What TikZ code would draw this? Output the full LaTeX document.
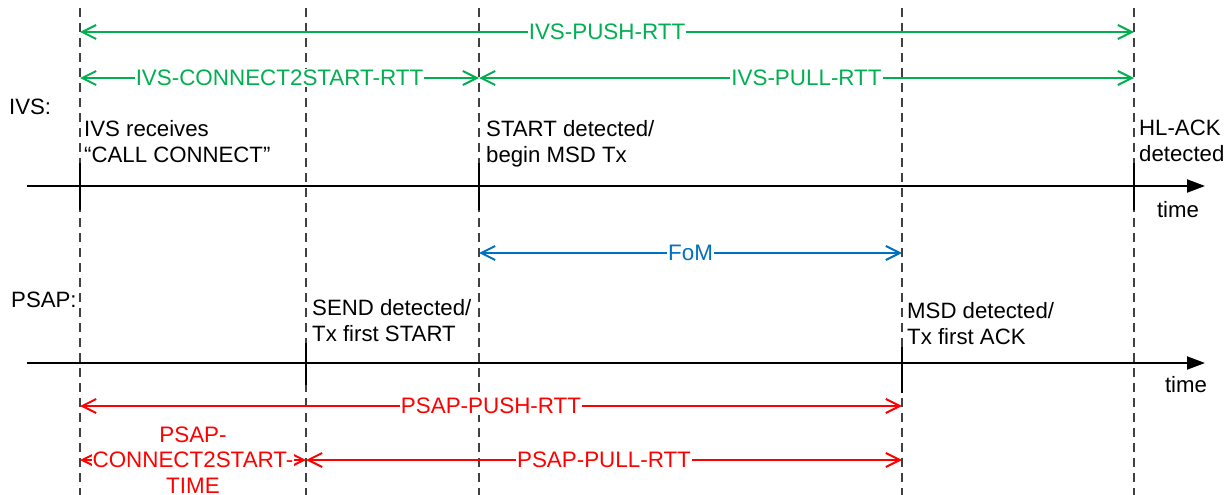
\documentclass[tikz,border=0pt]{standalone}
\usepackage{fontspec}
\setmainfont{Liberation Sans}
\usetikzlibrary{arrows.meta}
\definecolor{ggreen}{HTML}{00B050}
\definecolor{bblue}{HTML}{0070C0}
\definecolor{rred}{HTML}{FF0000}
\definecolor{dgray}{HTML}{404040}
\begin{document}
\begin{tikzpicture}[x=1pt,y=-1pt,
  guide/.style={dgray, line width=1.2pt, dash pattern=on 9pt off 6pt},
  axisline/.style={black, line width=2pt, -{Triangle[length=18pt,width=13pt]}},
  tickmark/.style={black, line width=2pt},
  span/.style={line width=2pt, {Straight Barb[length=14pt,width=14pt]}-{Straight Barb[length=14pt,width=14pt]}},
  lbl/.style={fill=white, inner sep=1pt, align=center, font=\fontsize{22.4}{25.2}\selectfont},
  txt/.style={inner sep=0pt, align=left, anchor=north west, font=\fontsize{22.2}{26}\selectfont},
  plain/.style={inner sep=0pt, font=\fontsize{22.2}{26}\selectfont},
]
\useasboundingbox (0,0) rectangle (1231,495);
% guide lines
\foreach \n/\x in {a/80,b/306,c/479,d/902,e/1134}{
  \coordinate (\n top) at (\x,8);
  \coordinate (\n bot) at (\x,495);
  \draw[guide] (\n top) -- (\n bot);
}
% time axes
\coordinate (ivsL) at (27,186);
\coordinate (ivsR) at (1205,186);
\coordinate (psapL) at (27,363);
\coordinate (psapR) at (1205,363);
\draw[axisline] (ivsL) -- (ivsR);
\draw[axisline] (psapL) -- (psapR);
% ticks
\foreach \n/\x in {t1/80,t2/479,t3/1134}{
  \coordinate (\n u) at (\x,163);
  \coordinate (\n d) at (\x,210);
  \draw[tickmark] (\n u) -- (\n d);
}
\coordinate (t4u) at (306,343); \coordinate (t4d) at (306,385);
\coordinate (t5u) at (902,347); \coordinate (t5d) at (902,393);
\draw[tickmark] (t4u) -- (t4d);
\draw[tickmark] (t5u) -- (t5d);
% labels
\node[plain, anchor=west] (ivs) at (9,107) {IVS:};
\node[plain, anchor=west] (psap) at (11,300) {PSAP:};
\node[plain] (time1) at (1178,210) {time};
\node[plain] (time2) at (1186,385) {time};
\node[txt] (e1) at (84,120) {IVS receives\\“CALL CONNECT”};
\node[txt] (e2) at (486,120) {START detected/\\begin MSD Tx};
\node[txt] (e3) at (1139,120) {HL-ACK\\detected};
\node[txt] (e4) at (312,299) {SEND detected/\\Tx first START};
\node[txt] (e5) at (907,302) {MSD detected/\\Tx first ACK};
% green spans
\coordinate (g1a) at (80,32);  \coordinate (g1b) at (1134,32);
\coordinate (g2a) at (80,78);  \coordinate (g2b) at (479,78);
\coordinate (g3b) at (1134,78);
\draw[span, ggreen] (g1a) -- node[lbl] (l1) {IVS-PUSH-RTT} (g1b);
\draw[span, ggreen] (g2a) -- node[lbl] (l2) {IVS-CONNECT2START-RTT} (g2b);
\draw[span, ggreen] (g2b) -- node[lbl] (l3) {IVS-PULL-RTT} (g3b);
% blue span
\coordinate (f1a) at (479,253); \coordinate (f1b) at (902,253);
\draw[span, bblue] (f1a) -- node[lbl] (l4) {FoM} (f1b);
% red spans
\coordinate (r1a) at (80,406); \coordinate (r1b) at (902,406);
\coordinate (r2a) at (80,460); \coordinate (r2b) at (306,460); \coordinate (r3b) at (902,460);
\draw[span, rred] (r1a) -- node[lbl] (l5) {PSAP-PUSH-RTT} (r1b);
\draw[span, rred] (r2a) -- node[lbl, inner sep=0.3pt] (l6) {PSAP-\\CONNECT2START-\\TIME} (r2b);
\draw[span, rred] (r2b) -- node[lbl] (l7) {PSAP-PULL-RTT} (r3b);
\end{tikzpicture}
\end{document}
